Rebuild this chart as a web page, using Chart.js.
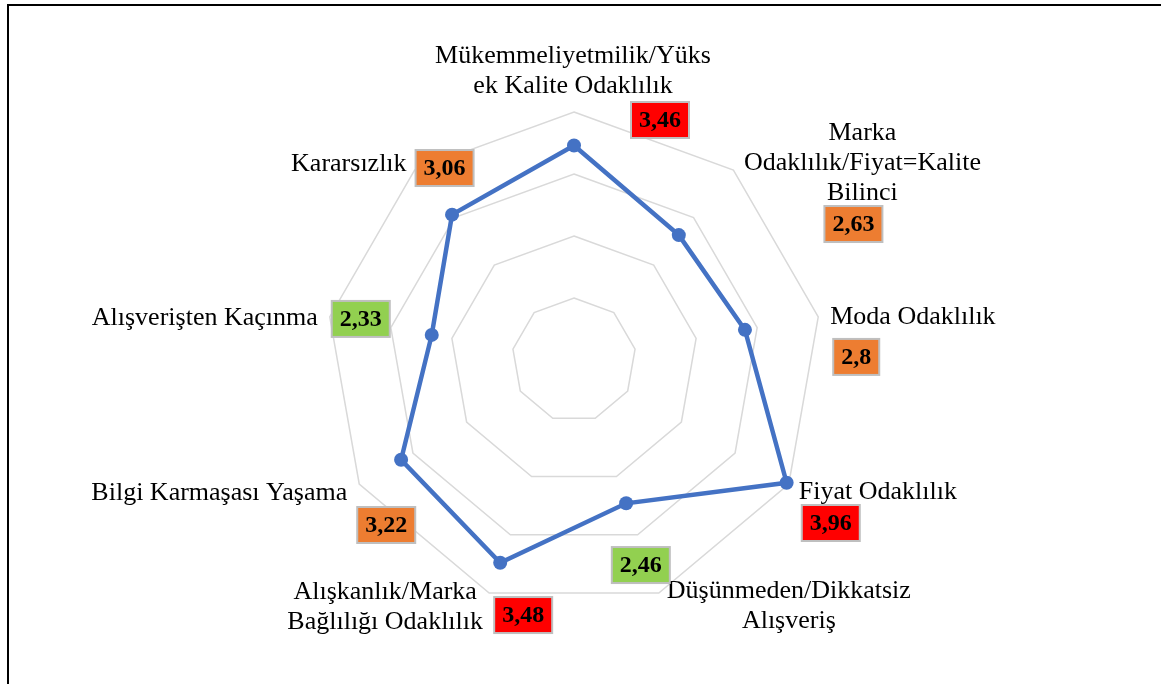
<!DOCTYPE html>
<html>
<head>
<meta charset="utf-8">
<script src="https://cdn.jsdelivr.net/npm/chart.js@4"></script>
<style>
  html, body { margin: 0; padding: 0; background: #fff; overflow: hidden; }
  #wrap { position: relative; width: 1161px; height: 684px; }
  #frame { position: absolute; left: 7px; top: 4px; width: 1200px; height: 720px; border: 2px solid #000; }
  #chart { position: absolute; left: 0; top: 0; }
</style>
</head>
<body>
<div id="wrap">
  <div id="frame"></div>
  <canvas id="chart" width="1161" height="684"></canvas>
</div>
<script>
// categories (clockwise from top), each entry split into display lines
const categories = [
    ['Mükemmeliyetmilik/Yüks', 'ek Kalite Odaklılık'],
    ['Marka', 'Odaklılık/Fiyat=Kalite', 'Bilinci'],
    ['Moda Odaklılık'],
    ['Fiyat Odaklılık'],
    ['Düşünmeden/Dikkatsiz', 'Alışveriş'],
    ['Alışkanlık/Marka', 'Bağlılığı Odaklılık'],
    ['Bilgi Karmaşası Yaşama'],
    ['Alışverişten Kaçınma'],
    ['Kararsızlık']
];
const scores = [3.46, 2.63, 2.8, 3.96, 2.46, 3.48, 3.22, 2.33, 3.06];
const axisMin = 0;
const axisMax = 4;
const axisStep = 1;

// label placement relative to the outer vertex of each spoke
const labelLayout = [
    { dx: -1,  dy: -49, align: 'center' },
    { dx: 129, dy: -30, align: 'center' },
    { dx: 12,  dy: 7,   align: 'left' },
    { dx: 10,  dy: 15,  align: 'left' },
    { dx: 130, dy: 5,   align: 'center' },
    { dx: -104, dy: 6,  align: 'center' },
    { dx: -12, dy: 16,  align: 'right' },
    { dx: -12, dy: 8,   align: 'right' },
    { dx: -8,  dy: 1,   align: 'right' }
];
const boxLayout = [
    { dx: 86, dy: 8 },
    { dx: 120, dy: 54 },
    { dx: 38, dy: 40 },
    { dx: 42, dy: 39 },
    { dx: -18, dy: -28 },
    { dx: 34, dy: 22 },
    { dx: 27, dy: 41 },
    { dx: 31, dy: 2 },
    { dx: 30, dy: -2 }
];

function boxColor(v) {
    if (v >= 3.4) return '#FF0000';
    if (v < 2.5) return '#92D050';
    return '#ED7D31';
}

const labelPlugin = {
    id: 'labelPlugin',
    afterDatasetsDraw(chart) {
        const ctx = chart.ctx;
        const scale = chart.scales.r;
        ctx.save();
        categories.forEach((lines, i) => {
            const p = scale.getPointPosition(i, scale.drawingArea);
            const lay = labelLayout[i];
            ctx.font = '26px "Liberation Serif", "Times New Roman", serif';
            ctx.fillStyle = '#000';
            ctx.textAlign = lay.align;
            ctx.textBaseline = 'alphabetic';
            lines.forEach((line, k) => {
                ctx.fillText(line, p.x + lay.dx, p.y + lay.dy + k * 30);
            });

            // value box
            const b = boxLayout[i];
            const txt = String(scores[i]).replace('.', ',');
            ctx.font = 'bold 24px "Liberation Serif", "Times New Roman", serif';
            const w = ctx.measureText(txt).width + 16;
            const h = 36;
            const cx = p.x + b.dx;
            const cy = p.y + b.dy;
            ctx.fillStyle = boxColor(scores[i]);
            ctx.fillRect(cx - w / 2, cy - h / 2, w, h);
            ctx.strokeStyle = '#BFBFBF';
            ctx.lineWidth = 2;
            ctx.strokeRect(cx - w / 2, cy - h / 2, w, h);
            ctx.fillStyle = '#000';
            ctx.textAlign = 'center';
            ctx.textBaseline = 'middle';
            ctx.fillText(txt, cx, cy + 1);
        });
        ctx.restore();
    }
};

const chart = new Chart(document.getElementById('chart'), {
    type: 'radar',
    data: {
        labels: categories,
        datasets: [{
            data: scores,
            borderColor: '#4472C4',
            backgroundColor: '#4472C4',
            borderWidth: 4.5,
            fill: false,
            pointRadius: 7,
            pointBorderWidth: 0,
            pointBackgroundColor: '#4472C4',
            tension: 0
        }]
    },
    options: {
        responsive: false,
        animation: false,
        events: [],
        layout: {
            padding: { left: 326, top: 112, right: 339, bottom: 76 }
        },
        plugins: {
            legend: { display: false },
            tooltip: { enabled: false }
        },
        scales: {
            r: {
                min: axisMin,
                max: axisMax,
                ticks: { display: false, stepSize: axisStep },
                pointLabels: { display: false },
                angleLines: { display: false },
                grid: { color: '#D9D9D9', lineWidth: 1.5, circular: false },
                afterFit(scale) {
                    scale.xCenter = scale.left + scale.width / 2;
                    scale.yCenter = scale.top + scale.height / 2;
                    scale.drawingArea = Math.min(scale.width, scale.height) / 2;
                }
            }
        }
    },
    plugins: [labelPlugin]
});
</script>
</body>
</html>
